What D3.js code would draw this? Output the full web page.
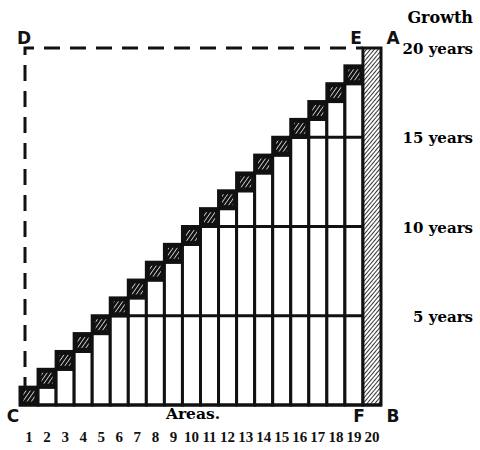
<!DOCTYPE html>
<html><head><meta charset="utf-8">
<script src="https://cdn.jsdelivr.net/npm/d3@7/dist/d3.min.js"></script>
<style>body{margin:0;background:#fff}svg{display:block}</style>
</head><body>
<script>
const areas = [1,2,3,4,5,6,7,8,9,10,11,12,13,14,15,16,17,18,19,20];
const growth = [1,2,3,4,5,6,7,8,9,10,11,12,13,14,15,16,17,18,19,20];
const yearTicks = [20,15,10,5];
const yearLabels = ["20 years","15 years","10 years","5 years"];
const gridYears = [5,10,15];

const W=480,H=450;
const svg=d3.select("body").append("svg").attr("width",W).attr("height",H);
const x=d3.scaleBand().domain(areas).range([20,381]).padding(0);
const y=d3.scaleLinear().domain([0,20]).range([405,48]);
const serif='"DejaVu Serif", serif', sans='"DejaVu Sans", sans-serif', times='"Liberation Serif", serif';

const defs=svg.append("defs");
const p1=defs.append("pattern").attr("id","cellHatch").attr("patternUnits","userSpaceOnUse")
  .attr("width",3.5).attr("height",3.5).attr("patternTransform","rotate(35)");
p1.append("rect").attr("width",3.5).attr("height",3.5).attr("fill","#111");
p1.append("line").attr("x1",0).attr("y1",0).attr("x2",0).attr("y2",3.5).attr("stroke","#fff").attr("stroke-width",1.4);
const p2=defs.append("pattern").attr("id","colHatch").attr("patternUnits","userSpaceOnUse")
  .attr("width",3).attr("height",3).attr("patternTransform","rotate(40)");
p2.append("rect").attr("width",3).attr("height",3).attr("fill","#fff");
p2.append("line").attr("x1",0).attr("y1",0).attr("x2",0).attr("y2",3).attr("stroke","#111").attr("stroke-width",1.7);

// dashed frame D-E and D-C
svg.append("path").attr("d",`M${x(1)+5},${y(0)-12}V${y(20)}H${x(20)}`)
  .attr("fill","none").attr("stroke","#111").attr("stroke-width",3).attr("stroke-dasharray","16,10");

const g=svg.append("g");
areas.forEach((a,i)=>{
  const v=growth[i], bx=x(a), bw=x.bandwidth();
  if(a===areas[areas.length-1]){
    g.append("rect").attr("x",bx).attr("y",y(v)).attr("width",bw).attr("height",y(0)-y(v))
      .attr("fill","url(#colHatch)").attr("stroke","#111").attr("stroke-width",3);
  } else {
    if(v>1) g.append("rect").attr("x",bx).attr("y",y(v-1)).attr("width",bw).attr("height",y(0)-y(v-1))
      .attr("fill","#fff").attr("stroke","#111").attr("stroke-width",3);
    g.append("rect").attr("x",bx).attr("y",y(v)).attr("width",bw).attr("height",y(v-1)-y(v))
      .attr("fill","#111").attr("stroke","#111").attr("stroke-width",3);
    g.append("rect").attr("x",bx+3.5).attr("y",y(v)+3.5).attr("width",bw-7).attr("height",y(v-1)-y(v)-7)
      .attr("fill","url(#cellHatch)");
  }
});
gridYears.forEach(t=>{
  g.append("line").attr("x1",x(areas[t])).attr("x2",x(20)).attr("y1",y(t)).attr("y2",y(t))
    .attr("stroke","#111").attr("stroke-width",3);
});
g.append("line").attr("x1",x(1)-1).attr("x2",x(20)+x.bandwidth()+1).attr("y1",y(0)).attr("y2",y(0))
  .attr("stroke","#111").attr("stroke-width",3);

// right labels
svg.append("text").attr("x",473).attr("y",23).attr("text-anchor","end")
  .attr("font-family",serif).attr("font-weight","bold").attr("font-size",16).text("Growth");
yearTicks.forEach((t,i)=>{
  svg.append("text").attr("x",473).attr("y",y(t)+6).attr("text-anchor","end")
    .attr("font-family",serif).attr("font-weight","bold").attr("font-size",15).text(yearLabels[i]);
});
// bottom axis numbers
const xa=d3.axisBottom(x).tickSize(0).tickPadding(0);
const ax=svg.append("g").attr("transform","translate(0,431)").call(xa);
ax.select(".domain").remove();
ax.selectAll("text").attr("font-family",times).attr("font-weight","bold").attr("font-size",15).attr("fill","#111");
svg.append("text").attr("x",193).attr("y",419).attr("text-anchor","middle")
  .attr("font-family",serif).attr("font-weight","bold").attr("font-size",15.5).text("Areas.");
// corner letters
const letters=[["D",24,44],["E",356,44],["A",393,44],["C",13,422],["F",359,422],["B",393,422]];
letters.forEach(([t,lx,ly])=>svg.append("text").attr("x",lx).attr("y",ly).attr("text-anchor","middle")
  .attr("font-family",sans).attr("font-weight","bold").attr("font-size",17).attr("fill","#111").text(t));
</script>
</body></html>
